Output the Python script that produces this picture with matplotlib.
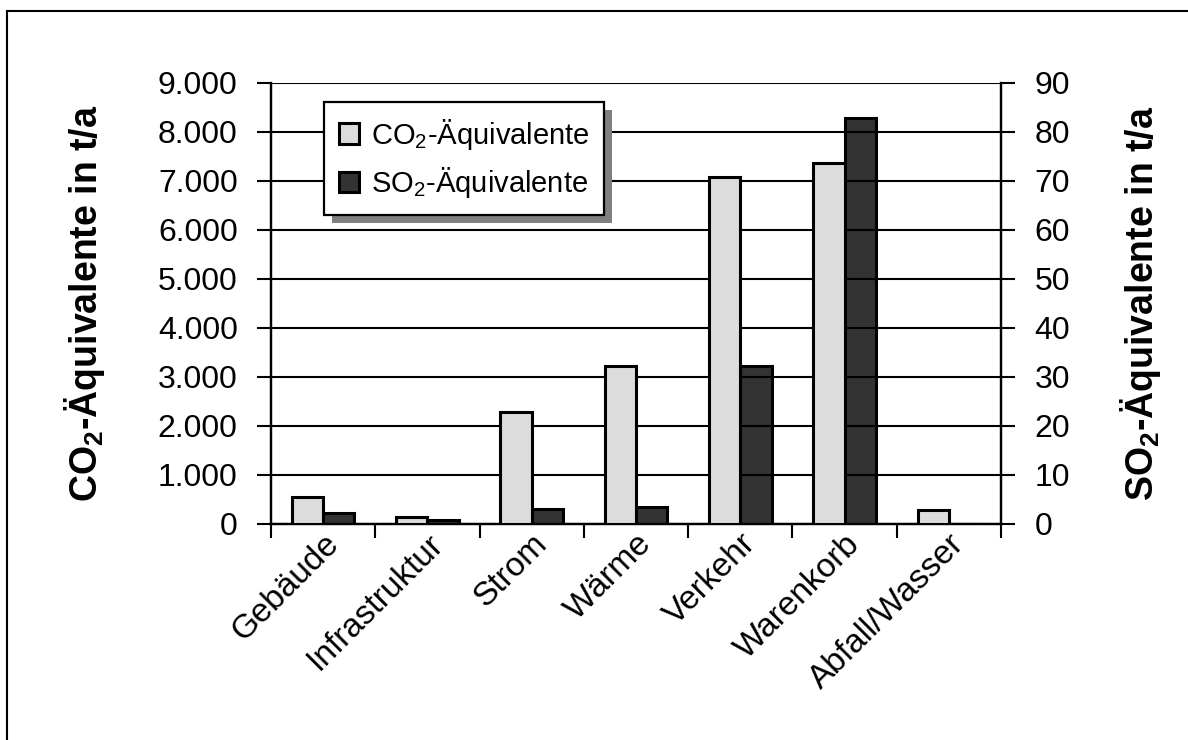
import numpy as np
import matplotlib
matplotlib.use('Agg')
import matplotlib.pyplot as plt
from matplotlib.patches import Rectangle
from matplotlib.lines import Line2D
from matplotlib.transforms import IdentityTransform

plt.rcParams['font.family'] = ['Liberation Sans', 'DejaVu Sans']
plt.rcParams['mathtext.default'] = 'regular'

categories = ['Gebäude', 'Infrastruktur', 'Strom', 'Wärme', 'Verkehr', 'Warenkorb', 'Abfall/Wasser']
co2 = [560, 150, 2280, 3220, 7080, 7370, 280]      # t/a, left axis
so2 = [2.2, 0.8, 3.0, 3.5, 32.2, 82.8, 0]         # t/a, right axis
left_ticks = [0, 1000, 2000, 3000, 4000, 5000, 6000, 7000, 8000, 9000]
left_labels = ['0', '1.000', '2.000', '3.000', '4.000', '5.000', '6.000', '7.000', '8.000', '9.000']
right_ticks = [0, 10, 20, 30, 40, 50, 60, 70, 80, 90]

fig = plt.figure(figsize=(11.88, 7.4), dpi=100)
ax = fig.add_axes([0.2281, 0.2919, 0.6145, 0.5963])
ax2 = ax.twinx()

x = np.arange(len(categories))
w = 0.3
ax.bar(x - w/2, co2, w, color='#dcdcdc', edgecolor='black', linewidth=2.2, zorder=3,
       label='CO$_2$-Äquivalente')
ax2.bar(x + w/2, so2, w, color='#333333', edgecolor='black', linewidth=2.2, zorder=3,
        label='SO$_2$-Äquivalente')

ax.set_xlim(-0.5, len(categories) - 0.5)
ax.set_ylim(0, 9000)
ax2.set_ylim(0, 90)

ax.set_yticks(left_ticks)
ax.set_yticklabels(left_labels)
ax2.set_yticks(right_ticks)
for y in left_ticks:
    ax.axhline(y, color='black', lw=1.5, zorder=1)

ax.set_xticks(x)
ax.set_xticklabels(categories, rotation=45, ha='right', va='top', rotation_mode='anchor')
ax.set_xticks(np.arange(-0.5, len(categories)), minor=True)
ax.tick_params(axis='x', which='major', length=0, pad=3, labelsize=24)
ax.tick_params(axis='x', which='minor', length=10, width=1.5, direction='out')
ax.tick_params(axis='y', length=10, width=1.5, pad=14, labelsize=23)
ax2.tick_params(axis='y', length=10, width=1.5, pad=14, labelsize=23)

for a in (ax, ax2):
    a.spines['top'].set_visible(False)
    for s in ('left', 'right', 'bottom'):
        a.spines[s].set_linewidth(1.6)

ax.set_ylabel('CO$_2$-Äquivalente in t/a', fontsize=27, fontweight='bold')
ax2.set_ylabel('SO$_2$-Äquivalente in t/a', fontsize=27, fontweight='bold')
ax.yaxis.set_label_coords(-0.225, 0.5)
ax2.yaxis.set_label_coords(1.160, 0.5)

# legend on top of everything
ax.set_zorder(ax2.get_zorder() + 1)
ax.patch.set_visible(False)
h1, l1 = ax.get_legend_handles_labels()
h2, l2 = ax2.get_legend_handles_labels()
leg = ax.legend(h1 + h2, l1 + l2, loc='upper left', bbox_to_anchor=(0.0726, 0.9556),
                borderaxespad=0, fontsize=21, frameon=True, fancybox=False, framealpha=1,
                edgecolor='black', handlelength=0.7, handleheight=0.7,
                handletextpad=0.4, borderpad=0.5, labelspacing=0.45)
leg.get_frame().set_linewidth(1.6)
leg.set_zorder(10)

fig.canvas.draw()
bb = leg.get_window_extent()
shadow = Rectangle((bb.x0 + 8, bb.y0 - 8), bb.width, bb.height, transform=IdentityTransform(),
                   facecolor='#808080', edgecolor='none', zorder=9)
ax.add_patch(shadow)

# outer frame (only top and left edges visible in the original)
fig.add_artist(Line2D([0.0059, 1.0], [0.9851, 0.9851], color='black', lw=1.5, transform=fig.transFigure))
fig.add_artist(Line2D([0.0059, 0.0059], [0.0, 0.9851], color='black', lw=1.5, transform=fig.transFigure))

fig.savefig('out.png', dpi=100)
